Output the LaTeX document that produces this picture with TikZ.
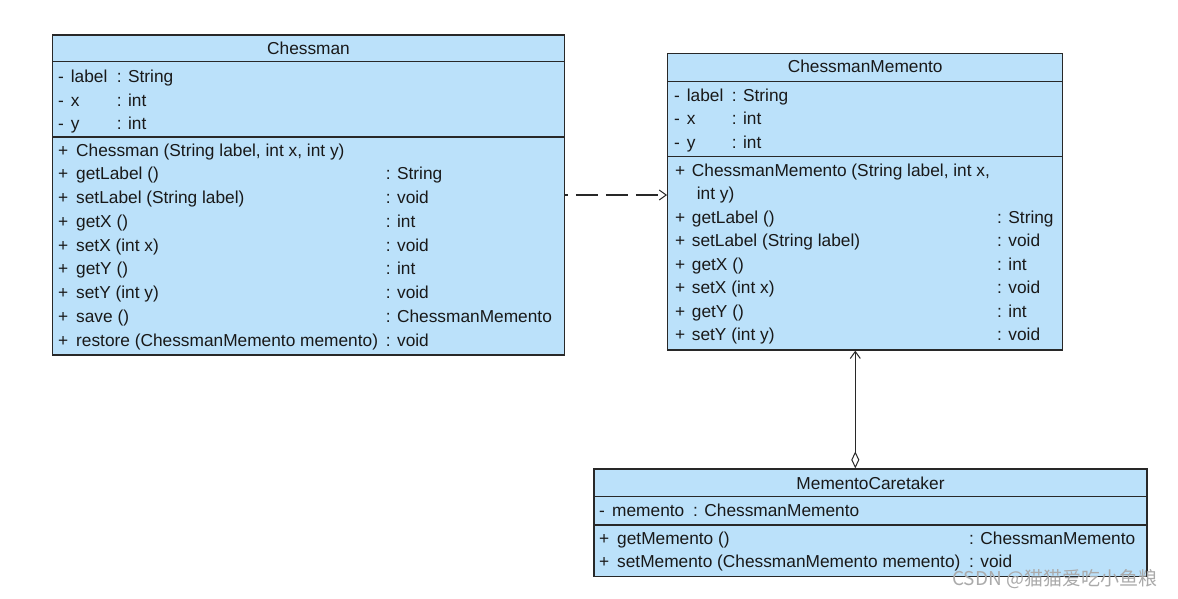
\documentclass[tikz,border=0pt]{standalone}
\usepackage{fontspec}
\setmainfont{Liberation Sans}
\newfontfamily\cjkwm{Noto Sans CJK SC}
\usetikzlibrary{arrows.meta}
\definecolor{boxfill}{RGB}{187,225,250}
\definecolor{linec}{RGB}{40,40,40}
\definecolor{txtc}{RGB}{25,25,25}
\definecolor{wmc}{RGB}{170,170,170}
\tikzset{
  cls/.style={draw=linec, fill=boxfill, line width=1.3pt, rectangle, inner sep=0pt},
  sepline/.style={draw=linec, line width=1.3pt},
  txt/.style={anchor=base west, inner sep=0pt, text=txtc},
  ttl/.style={anchor=base, inner sep=0pt, text=txtc},
  conn/.style={draw=linec, line width=1.1pt},
  opentip/.style={-{Straight Barb[length=7pt,width=10pt,line width=1pt]}},
}
\begin{document}
\begin{tikzpicture}[x=1pt,y=-1pt,font=\fontsize{17.3}{20}\selectfont]
\useasboundingbox (0,0) rectangle (1178,598);
\fill[white] (0,0) rectangle (1178,598);

% ---------- Chessman ----------
\node[cls, minimum width=511.6pt, minimum height=320pt] (chessman) at (308.5,195) {};
\draw[sepline] (chessman.north west) ++(0,27.3) -- ++(511.6,0);
\draw[sepline] (chessman.north west) ++(0,102.7) -- ++(511.6,0);
\node[ttl] (c-title) at (308.5,54.3) {Chessman};
\foreach \nm/\ty [count=\i] in {label/String, x/int, y/int}{
  \pgfmathsetmacro\yy{82.7+23.6*(\i-1)}
  \node[txt] (c-a\i m) at (58,\yy) {-};
  \node[txt] (c-a\i n) at (70.7,\yy) {\nm};
  \node[txt] (c-a\i t) at (116.7,\yy) {: \ty};
}
\foreach \nm/\ty [count=\i] in {
  {Chessman (String label, int x, int y)}/{},
  {getLabel ()}/{: String},
  {setLabel (String label)}/{: void},
  {getX ()}/{: int},
  {setX (int x)}/{: void},
  {getY ()}/{: int},
  {setY (int y)}/{: void},
  {save ()}/{: ChessmanMemento},
  {restore (ChessmanMemento memento)}/{: void}}{
  \pgfmathsetmacro\yy{156+23.75*(\i-1)}
  \node[txt] (c-m\i p) at (58,\yy) {+};
  \node[txt] (c-m\i n) at (76,\yy) {\nm};
  \node[txt] (c-m\i t) at (385.7,\yy) {\ty};
}

% ---------- ChessmanMemento ----------
\node[cls, minimum width=395pt, minimum height=296.7pt] (memento) at (865.2,201.65) {};
\draw[sepline] (memento.north west) ++(0,29) -- ++(395,0);
\draw[sepline] (memento.north west) ++(0,104) -- ++(395,0);
\node[ttl] (m-title) at (865.2,72.7) {ChessmanMemento};
\foreach \nm/\ty [count=\i] in {label/String, x/int, y/int}{
  \pgfmathsetmacro\yy{101+23.5*(\i-1)}
  \node[txt] (m-a\i m) at (674,\yy) {-};
  \node[txt] (m-a\i n) at (686.7,\yy) {\nm};
  \node[txt] (m-a\i t) at (731.7,\yy) {: \ty};
}
\node[txt] (m-m1p) at (675,176) {+};
\node[txt] (m-m1n) at (691.7,176) {ChessmanMemento (String label, int x,};
\node[txt] (m-m1c) at (696.7,199.6) {int y)};
\foreach \nm/\ty [count=\i from 3] in {
  {getLabel ()}/{: String},
  {setLabel (String label)}/{: void},
  {getX ()}/{: int},
  {setX (int x)}/{: void},
  {getY ()}/{: int},
  {setY (int y)}/{: void}}{
  \pgfmathsetmacro\yy{176+23.57*(\i-1)}
  \node[txt] (m-m\i p) at (675,\yy) {+};
  \node[txt] (m-m\i n) at (691.7,\yy) {\nm};
  \node[txt] (m-m\i t) at (997,\yy) {\ty};
}

% ---------- MementoCaretaker ----------
\node[cls, minimum width=553pt, minimum height=107.7pt] (caretaker) at (870.5,522.85) {};
\draw[sepline] (caretaker.north west) ++(0,28.3) -- ++(553,0);
\draw[sepline] (caretaker.north west) ++(0,56.7) -- ++(553,0);
\node[ttl] (k-title) at (870.5,489.3) {MementoCaretaker};
\node[txt] (k-a1m) at (599,516.7) {-};
\node[txt] (k-a1n) at (612,516.7) {memento};
\node[txt] (k-a1t) at (693,516.7) {: ChessmanMemento};
\node[txt] (k-m1p) at (599,544.3) {+};
\node[txt] (k-m1n) at (617,544.3) {getMemento ()};
\node[txt] (k-m1t) at (969,544.3) {: ChessmanMemento};
\node[txt] (k-m2p) at (599,567.7) {+};
\node[txt] (k-m2n) at (617,567.7) {setMemento (ChessmanMemento memento)};
\node[txt] (k-m2t) at (969,567.7) {: void};

% ---------- connectors ----------
\draw[conn, opentip, dash pattern=on 22pt off 8pt, dash phase=19pt]
  (chessman.east) -- (chessman.east -| memento.west);
\coordinate (aggx) at (855.3,0);
\draw[conn, {Diamond[open,length=17pt,width=8pt,line width=1pt,fill=white]}-{Straight Barb[length=7pt,width=10pt,line width=1pt]}]
  (caretaker.north -| aggx) -- (memento.south -| aggx);

% ---------- watermark ----------
\node[anchor=west, inner sep=0pt, text=wmc, font=\cjkwm\fontsize{19}{22}\selectfont] (wm) at (952,579.5) {CSDN @猫猫爱吃小鱼粮};
\end{tikzpicture}
\end{document}
